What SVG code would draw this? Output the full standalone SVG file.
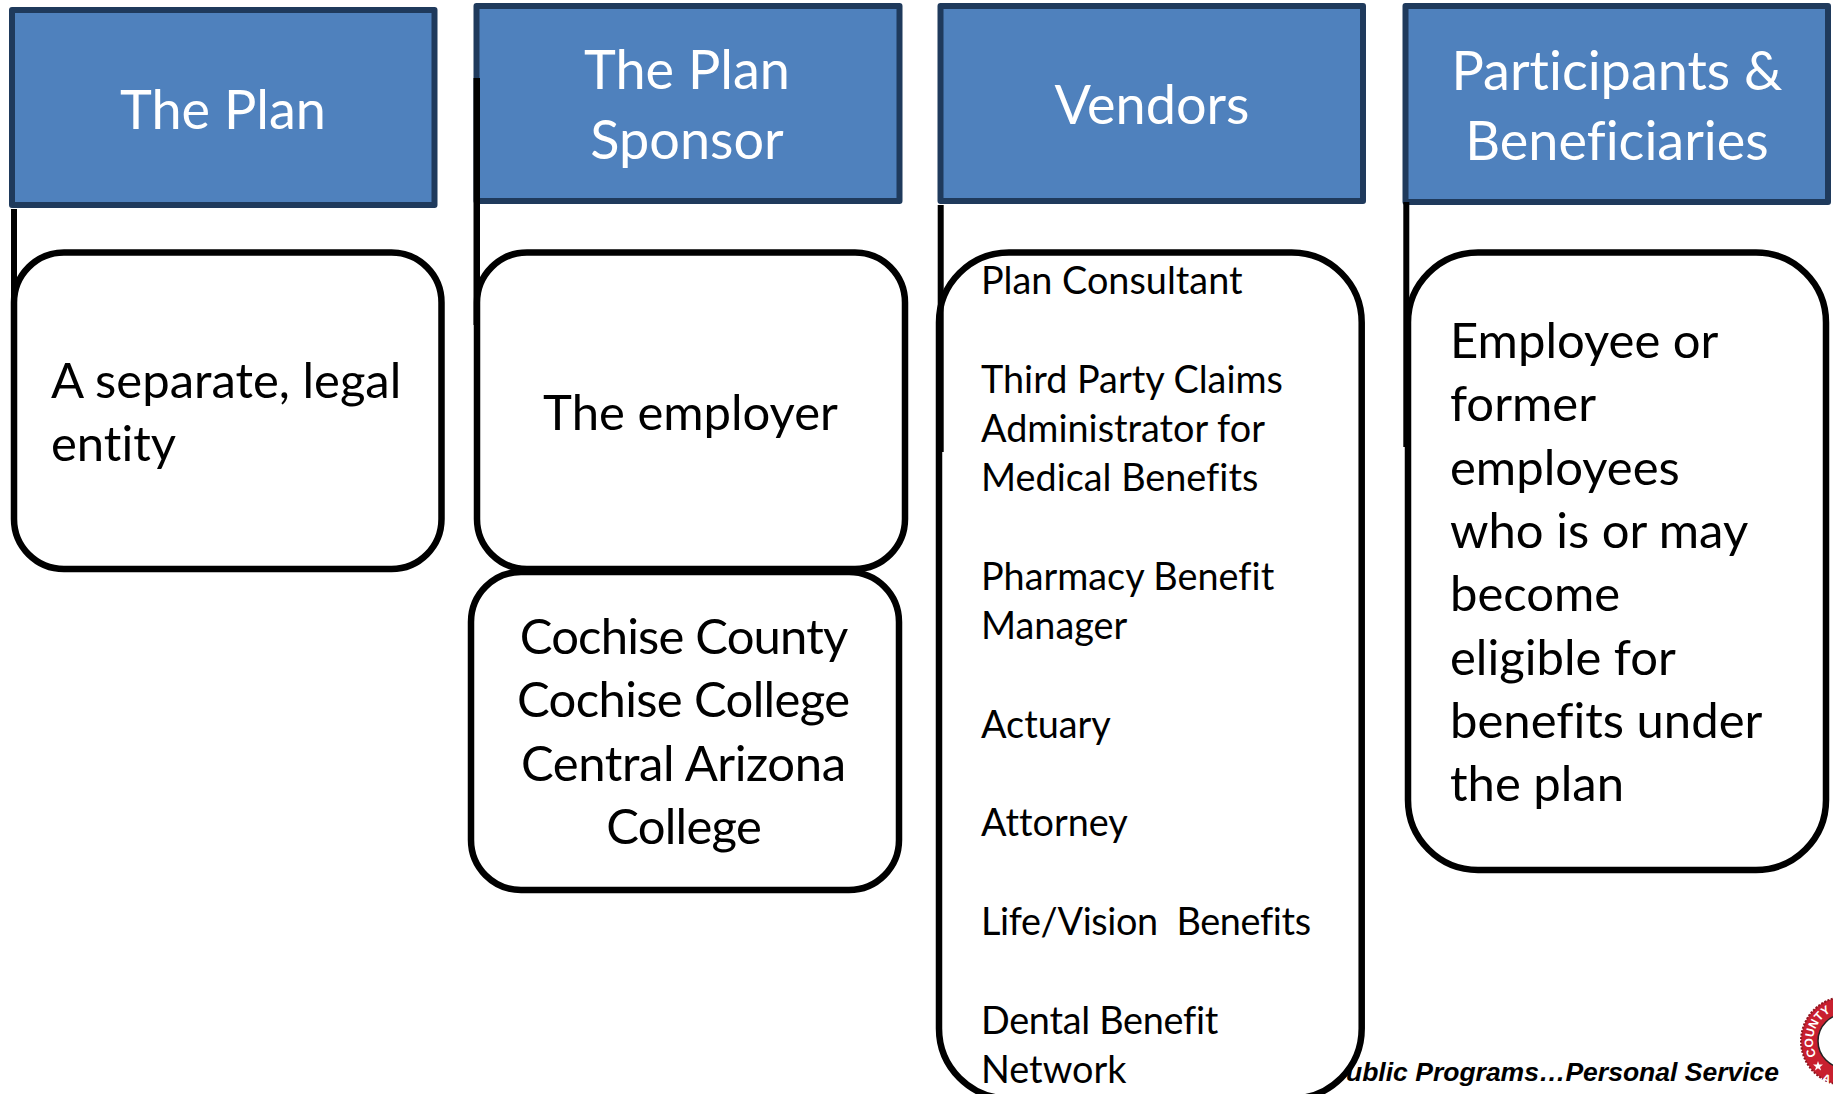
<svg xmlns="http://www.w3.org/2000/svg" width="1833" height="1094" viewBox="0 0 1833 1094">
<defs><path id="seal-arc" d="M1822.400 1063.600A32 32 0 0 1 1845 1009"/></defs>
<style>
.h{fill:#4f81bd;stroke:#1f3a5c;stroke-width:6;stroke-linejoin:round}
.b{fill:#fff;stroke:#000;stroke-width:6.500}
.t{font-family:"Lato","Carlito","Open Sans",sans-serif;font-variant-ligatures:none}
.ht{fill:#fff;font-size:54px;text-anchor:middle}
.bt{fill:#000;font-size:49px}
.vt{fill:#000;font-size:37.800px}
.c{text-anchor:middle}
.bar{fill:#000}
.s{font-family:"Liberation Sans",Arial,sans-serif;font-weight:700;fill:#fff}
</style>
<rect width="1833" height="1094" fill="#fff"/>
<text id="tagline" x="1346" y="1081" font-family="Liberation Sans,Arial,sans-serif" font-size="26.500" font-weight="700" font-style="italic" fill="#000">ublic Programs…Personal Service</text>
<g id="seal">
<circle cx="1845" cy="1041" r="44" fill="#c8202f" stroke="#8e1620" stroke-width="2" stroke-dasharray="2 1.500"/>
<circle cx="1845" cy="1041" r="27" fill="#fff" stroke="#222" stroke-width="1.500"/>
<text class="s" font-size="12"><textPath href="#seal-arc" startOffset="10">COUNTY</textPath></text>
<text class="s" font-size="12" transform="translate(1821 1081) rotate(20)">A</text>
<polygon fill="#fff" points="1818,1061 1819.200,1064.600 1823,1064.600 1820,1066.900 1821.100,1070.500 1818,1068.300 1814.900,1070.500 1816,1066.900 1813,1064.600 1816.800,1064.600"/>
</g>
<g id="plan"><rect class="h" x="12" y="10" width="422.500" height="195"/><text class="t ht" x="223" y="129">The Plan</text></g>
<g id="sponsor"><rect class="h" x="476.500" y="6" width="423" height="195"/><text class="t ht" x="687" y="89">The Plan</text><text class="t ht" x="687" y="159">Sponsor</text></g>
<g id="vendors"><rect class="h" x="940.500" y="6" width="422.500" height="195"/><text class="t ht" x="1152" y="124">Vendors</text></g>
<g id="participants"><rect class="h" x="1405.500" y="6" width="422.500" height="196"/><text class="t ht" x="1617" y="90">Participants &amp;</text><text class="t ht" x="1617" y="160">Beneficiaries</text></g>
<g id="plan-desc"><rect class="b" x="14" y="252.500" width="427.500" height="316.500" rx="50"/><text class="t bt" x="51" y="398">A separate, legal</text><text class="t bt" x="51" y="461">entity</text></g>
<g id="sponsor-desc"><rect class="b" x="477" y="252.500" width="428" height="316.500" rx="50"/><text class="t bt c" x="690.500" y="430">The employer</text></g>
<g id="sponsor-list"><rect class="b" x="471" y="572" width="428" height="318" rx="50"/>
<text class="t bt c" x="684" y="654" textLength="328.500">Cochise County</text><text class="t bt c" x="683.500" y="717" textLength="333">Cochise College</text><text class="t bt c" x="683.500" y="781" textLength="325">Central Arizona</text><text class="t bt c" x="684" y="844" textLength="155.500">College</text></g>
<g id="vendors-list"><rect class="b" x="939" y="252.500" width="422.700" height="846" rx="70"/>
<text class="t vt" x="981" y="294">Plan Consultant</text>
<text class="t vt" x="981" y="393">Third Party Claims</text>
<text class="t vt" x="981" y="442">Administrator for</text>
<text class="t vt" x="981" y="491">Medical Benefits</text>
<text class="t vt" x="981" y="590">Pharmacy Benefit</text>
<text class="t vt" x="981" y="639">Manager</text>
<text class="t vt" x="981" y="738">Actuary</text>
<text class="t vt" x="981" y="836">Attorney</text>
<text class="t vt" x="981" y="935" xml:space="preserve" textLength="330">Life/Vision  Benefits</text>
<text class="t vt" x="981" y="1034" textLength="237.300">Dental Benefit</text>
<text class="t vt" x="981" y="1083">Network</text></g>
<g id="participants-desc"><rect class="b" x="1408" y="252.500" width="418" height="617.500" rx="70"/>
<text class="t bt" x="1450" y="358">Employee or</text>
<text class="t bt" x="1450" y="421">former</text>
<text class="t bt" x="1450" y="485">employees</text>
<text class="t bt" x="1450" y="548">who is or may</text>
<text class="t bt" x="1450" y="611">become</text>
<text class="t bt" x="1450" y="675">eligible for</text>
<text class="t bt" x="1450" y="738">benefits under</text>
<text class="t bt" x="1450" y="801">the plan</text></g>
<g id="connectors">
<rect class="bar" x="11" y="209" width="6" height="246"/>
<rect class="bar" x="473.500" y="78" width="6.500" height="247"/>
<rect class="bar" x="937.700" y="205" width="6" height="247"/>
<rect class="bar" x="1403.300" y="202" width="6" height="245"/>
</g>
</svg>
